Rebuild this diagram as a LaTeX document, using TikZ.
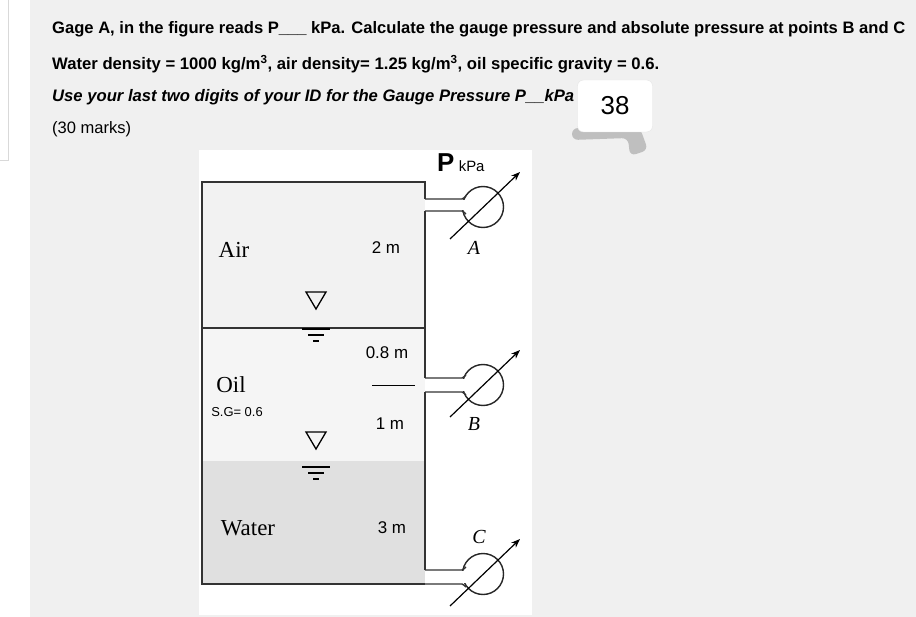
\documentclass[tikz,border=0pt]{standalone}
\usepackage{fontspec}
\setmainfont{Liberation Sans}
\newfontfamily\serifF{Liberation Serif}
\tikzset{
  px/.style={x=1bp,y=-1bp},
  tankline/.style={line width=1.4bp,black!80},
  lbl/.style={inner sep=0pt,font=\fontsize{17}{19}\selectfont},
  slbl/.style={inner sep=0pt,font=\serifF\fontsize{23}{25}\selectfont},
  hdr/.style={inner sep=0pt,anchor=west,font=\bfseries\fontsize{14}{16}\selectfont},
  gauge/.style={draw=black!85,line width=1.4bp,fill=white},
  garrow/.style={-{Stealth[length=9bp]},line width=1.2bp},
  glbl/.style={inner sep=0pt,font=\serifF\itshape\fontsize{20}{22}\selectfont}
}
\usetikzlibrary{arrows.meta}
\begin{document}
\begin{tikzpicture}[px]
\useasboundingbox (0,0) rectangle (916,617);
\fill[white] (0,0) rectangle (916,617);
\fill[black!6] (30,0) rectangle (916,617);
\draw[black!15] (8,0) -- (8,160) -- (0,160);
% header
\node[hdr] (h1) at (52,29) {\resizebox{853bp}{!}{Gage A, in the figure reads P\_\_\_ kPa. Calculate the gauge pressure and absolute pressure at points B and C}};
\node[hdr] (h2) at (52,64) {\resizebox{607bp}{!}{Water density = 1000 kg/m\textsuperscript{3}, air density= 1.25 kg/m\textsuperscript{3}, oil specific gravity = 0.6.}};
\node[hdr,font=\bfseries\itshape\fontsize{14}{16}\selectfont] (h3) at (52,97) {\resizebox{522bp}{!}{Use your last two digits of your ID for the Gauge Pressure P\_\_kPa}};
\node[hdr,font=\fontsize{14}{16}\selectfont] (h4) at (52,129) {\resizebox{79bp}{!}{(30 marks)}};
% badge
\fill[black!25,rounded corners=6bp] (572,128) -- (640,128) -- (648,150) -- (630,156) -- (628,138) -- (572,140) -- cycle;
\node[draw=black!10,fill=white,rounded corners=6bp,minimum width=75bp,minimum height=52bp,font=\fontsize{26}{28}\selectfont] (badge) at (615,106) {38};
% panel
\fill[white] (199,150) rectangle (532,615);
% tank fills
\fill[black!5] (202,182) rectangle (425,328);
\fill[black!4] (202,328) rectangle (425,461);
\fill[black!12] (202,461) rectangle (425,584);
% gauges
\foreach \gn/\yc/\yt/\yb in {A/207/199/211, B/385/378/392, C/574/570/584}{
  \fill[white] (425,\yt) rectangle (466,\yb);
  \coordinate (g\gn) at (483,\yc);
  \draw[gauge] (g\gn) circle[radius=20.5bp];
  \fill[white] (460,\yt+0.7) rectangle (470,\yb-0.7);
  \draw[tankline] (425,\yt) -- (462,\yt) to[out=0,in=200] (466,\yt-3);
  \draw[tankline] (425,\yb) -- (462,\yb) to[out=0,in=160] (466,\yb+3);
  \draw[garrow] (450,\yc+32) -- (520,\yc-35);
}
% tank walls
\draw[tankline] (425,199) -- (425,182) -- (202,182) -- (202,584) -- (425,584);
\draw[tankline] (425,211) -- (425,378);
\draw[tankline] (425,392) -- (425,570);
\draw[tankline] (202,328) -- (425,328);
% surface symbols
\foreach \ys/\off in {300/29, 440/27}{
  \draw[line width=1.3bp] (306,\ys-8) -- (326,\ys-8) -- (316,\ys+9) -- cycle;
  \draw[line width=1.3bp] (302,\ys+\off) -- (330,\ys+\off);
  \draw[line width=1.3bp] (308,\ys+\off+6) -- (324,\ys+\off+6);
  \draw[line width=1.3bp] (313,\ys+\off+12) -- (319,\ys+\off+12);
}
\draw[line width=1bp] (372,385) -- (415,385);
% labels
\node[slbl] (air) at (234,250) {Air};
\node[slbl] (oil) at (231,385) {Oil};
\node[inner sep=0pt,font=\fontsize{13}{15}\selectfont] (sg) at (237,412) {S.G= 0.6};
\node[slbl] (water) at (248,528) {Water};
\node[lbl] (d1) at (386,248) {2 m};
\node[lbl] (d2) at (387,353) {0.8 m};
\node[lbl] (d3) at (390,424) {1 m};
\node[lbl] (d4) at (392,528) {3 m};
\node[inner sep=0pt,anchor=west] (pk) at (437,163) {\fontsize{26}{28}\selectfont\bfseries P\,\fontsize{15}{17}\selectfont\mdseries kPa};
\node[glbl] (la) at (474,248) {A};
\node[glbl] (lb) at (474,424) {B};
\node[glbl] (lc) at (479,537) {C};
\end{tikzpicture}
\end{document}
